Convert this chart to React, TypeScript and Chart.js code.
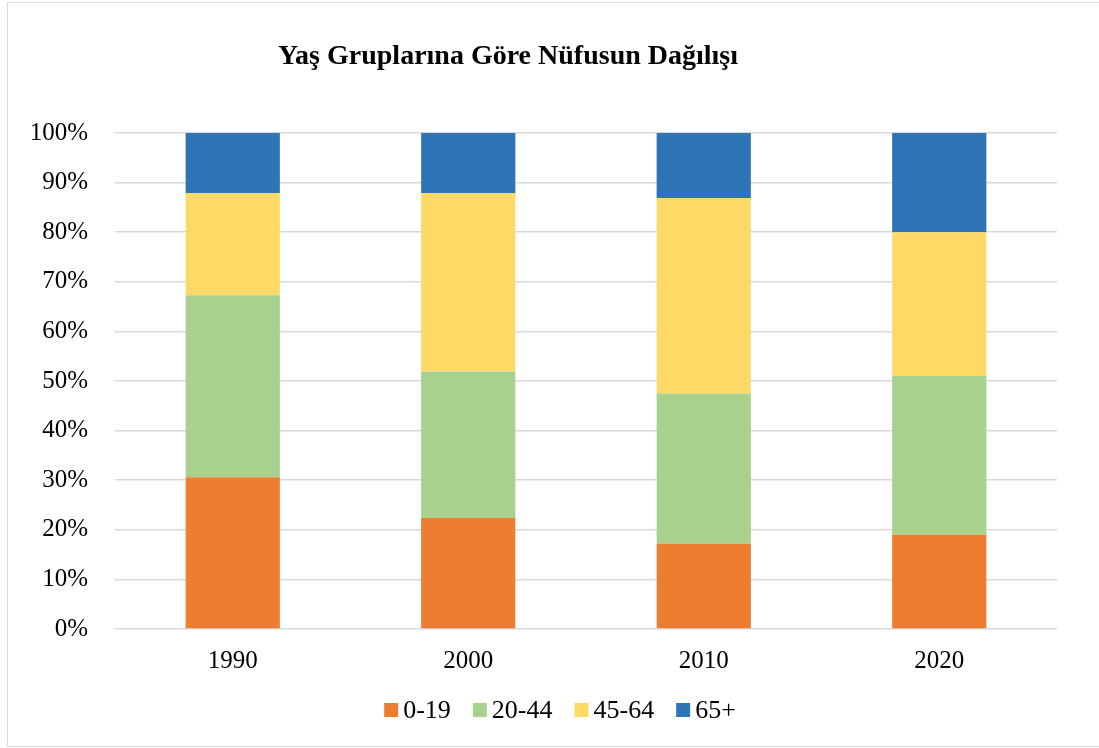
import React, { useEffect, useRef } from "react";
import { Chart, registerables } from "chart.js";

Chart.register(...registerables);

const years = ["1990", "2000", "2010", "2020"];
const age0to19 = [30.6, 22.4, 17.2, 19.0];
const age20to44 = [36.7, 29.5, 30.3, 32.0];
const age45to64 = [20.6, 36.0, 39.4, 29.0];
const age65plus = [12.1, 12.1, 13.1, 20.0];
const seriesNames = ["0-19", "20-44", "45-64", "65+"];
const seriesColors = ["#ED7D31", "#A9D18E", "#FFD966", "#2E75B6"];
const chartTitle = "Yaş Gruplarına Göre Nüfusun Dağılışı";

const FONT = "'Liberation Serif', 'Times New Roman', serif";

const titleAndLegend = {
  id: "titleAndLegend",
  afterDraw(chart: any) {
    const ctx = chart.ctx;
    ctx.save();
    // title
    ctx.font = `bold 28px ${FONT}`;
    ctx.fillStyle = "#000";
    ctx.textAlign = "center";
    ctx.textBaseline = "middle";
    ctx.fillText(chart.options.plugins.customTitle.text, 508, 57);
    // legend
    const box = 14;
    const gapBoxText = 5;
    const gapItems = 22;
    const y = 710;
    ctx.font = `26px ${FONT}`;
    ctx.textAlign = "left";
    const items = chart.data.datasets.map((d: any) => ({
      label: d.label,
      color: d.backgroundColor,
      w: ctx.measureText(d.label).width,
    }));
    let total = 0;
    items.forEach((it: any, i: number) => {
      total += box + gapBoxText + it.w + (i < items.length - 1 ? gapItems : 0);
    });
    let x = 560 - total / 2;
    items.forEach((it: any) => {
      ctx.fillStyle = it.color;
      ctx.fillRect(x, y - box / 2, box, box);
      x += box + gapBoxText;
      ctx.fillStyle = "#000";
      ctx.fillText(it.label, x, y + 1);
      x += it.w + gapItems;
    });
    ctx.restore();
  },
};

export default function App() {
  const ref = useRef<HTMLCanvasElement | null>(null);

  useEffect(() => {
    if (!ref.current) return;
    const values = [age0to19, age20to44, age45to64, age65plus];
    const chart = new Chart(ref.current, {
      type: "bar",
      data: {
        labels: years,
        datasets: values.map((v, i) => ({
          label: seriesNames[i],
          data: v,
          backgroundColor: seriesColors[i],
          borderWidth: 0,
          categoryPercentage: 1,
          barPercentage: 0.4,
        })),
      },
      options: {
        responsive: false,
        animation: false,
        layout: { padding: { left: 0, right: 42, top: 133, bottom: 55 } },
        plugins: {
          customTitle: { text: chartTitle },
          title: { display: false },
          legend: { display: false },
          tooltip: { enabled: false },
        } as any,
        scales: {
          x: {
            stacked: true,
            grid: { display: false, drawTicks: false },
            border: { display: false },
            ticks: { color: "#000", font: { family: FONT, size: 25 }, padding: 17 },
          },
          y: {
            stacked: true,
            min: 0,
            max: 100,
            afterFit: (s: any) => {
              s.width = 115;
            },
            grid: { color: "#d9d9d9", lineWidth: 1.5, drawTicks: false },
            border: { display: false },
            ticks: {
              stepSize: 10,
              color: "#000",
              font: { family: FONT, size: 25 },
              padding: 27,
              callback: (v: any) => v + "%",
            },
          },
        },
      },
      plugins: [titleAndLegend],
    });
    return () => chart.destroy();
  }, []);

  return (
    <div style={{ position: "absolute", left: 0, top: 0, width: 1099, height: 748, overflow: "hidden", background: "#fff" }}>
      <div
        style={{
          position: "absolute",
          left: 7,
          top: 2,
          width: 1100,
          height: 745,
          border: "1.5px solid #d9d9d9",
          boxSizing: "border-box",
        }}
      />
      <canvas ref={ref} width={1099} height={748} style={{ position: "absolute", left: 0, top: 0 }} />
    </div>
  );
}
